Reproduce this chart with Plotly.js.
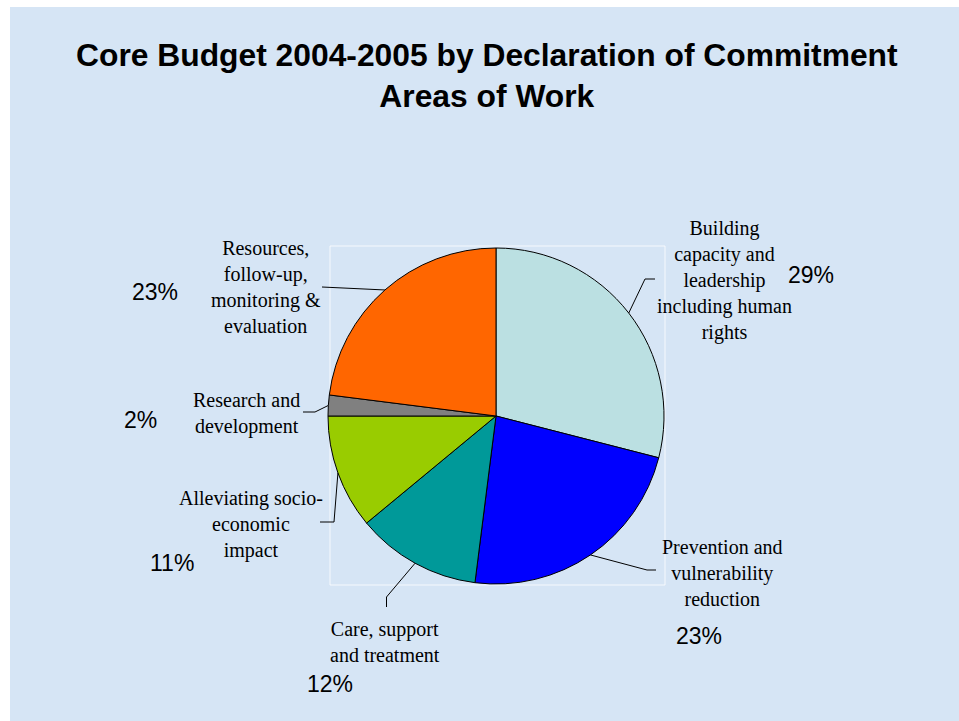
<!DOCTYPE html>
<html>
<head>
<meta charset="utf-8">
<script src="https://cdn.plot.ly/plotly-3.0.1.min.js"></script>
<style>
  html, body { margin: 0; padding: 0; background: #ffffff; }
  #chart { position: absolute; left: 10px; top: 7px; width: 949px; height: 714px; }
</style>
</head>
<body>
<div id="chart"></div>
<script>
// ---- data ----
const categories = [
  "Building capacity and leadership including human rights",
  "Prevention and vulnerability reduction",
  "Care, support and treatment",
  "Alleviating socio-economic impact",
  "Research and development",
  "Resources, follow-up, monitoring & evaluation"
];
const labelLines = [
  "Building<br>capacity and<br>leadership<br>including human<br>rights",
  "Prevention and<br>vulnerability<br>reduction",
  "Care, support<br>and treatment",
  "Alleviating socio-<br>economic<br>impact",
  "Research and<br>development",
  "Resources,<br>follow-up,<br>monitoring &<br>evaluation"
];
const values = [29, 23, 12, 11, 2, 23];
const pctLabels = ["29%", "23%", "12%", "11%", "2%", "23%"];
const titleText = "Core Budget 2004-2005 by Declaration of Commitment<br>Areas of Work";

// ---- style / layout ----
const colors = ["#BBE0E2", "#0000FF", "#009999", "#99CC00", "#808080", "#FF6600"];
const W = 949, H = 714;
const pie = { cx: 486, cy: 409, r: 168 };
// label centres, percent centres, leader elbow & end points (pixels in the chart div)
const labelPos = [[714.5, 273], [712, 565.5], [375, 635], [241, 517], [236, 406.5], [255.5, 280.5]];
const pctPos   = [[801, 268], [689, 629], [320, 677], [162, 556], [130, 413], [145, 284.7]];
const leaderElbow = [[635, 272], [637, 563], [376.5, 590], [324, 515], [305, 405], [312, 280]];
const leaderEnd   = [[645, 272], [646, 563], [376.5, 600], [310, 515], [293, 405], [312, 280]];

const px = x => x / W;
const py = y => 1 - y / H;

const total = values.reduce((a, b) => a + b, 0);
const shapes = [];
const annotations = [];

// plot-area frame
shapes.push({
  type: "rect", xref: "paper", yref: "paper",
  x0: px(pie.cx - pie.r + 2), x1: px(pie.cx + pie.r + 1),
  y0: py(pie.cy + pie.r + 1), y1: py(pie.cy - pie.r - 2),
  line: { color: "rgba(255,255,255,0.8)", width: 1 }, layer: "below"
});

let cum = 0;
values.forEach((v, i) => {
  const theta = 2 * Math.PI * (cum + v / 2) / total;
  cum += v;
  const sx = pie.cx + pie.r * Math.sin(theta);
  const sy = pie.cy - pie.r * Math.cos(theta);
  const e = leaderElbow[i], f = leaderEnd[i];
  shapes.push({ type: "line", xref: "paper", yref: "paper",
    x0: px(sx), y0: py(sy), x1: px(e[0]), y1: py(e[1]),
    line: { color: "#000000", width: 1 } });
  if (e[0] !== f[0] || e[1] !== f[1]) {
    shapes.push({ type: "line", xref: "paper", yref: "paper",
      x0: px(e[0]), y0: py(e[1]), x1: px(f[0]), y1: py(f[1]),
      line: { color: "#000000", width: 1 } });
  }
  annotations.push({
    xref: "paper", yref: "paper", x: px(labelPos[i][0]), y: py(labelPos[i][1]),
    xanchor: "center", yanchor: "middle", align: "center", showarrow: false,
    text: labelLines[i],
    font: { family: "Liberation Serif, Times New Roman, serif", size: 20, color: "#000000" }
  });
  annotations.push({
    xref: "paper", yref: "paper", x: px(pctPos[i][0]), y: py(pctPos[i][1]),
    xanchor: "center", yanchor: "middle", showarrow: false,
    text: pctLabels[i],
    font: { family: "Liberation Sans, Arial, sans-serif", size: 23, color: "#000000" }
  });
});

annotations.push({
  xref: "paper", yref: "paper", x: px(477), y: py(68),
  xanchor: "center", yanchor: "middle", align: "center", showarrow: false,
  text: "<b>" + titleText + "</b>",
  font: { family: "Liberation Sans, Arial, sans-serif", size: 31.8, color: "#000000" }
});

const trace = {
  type: "pie",
  labels: categories,
  values: values,
  sort: false,
  direction: "clockwise",
  rotation: 0,
  textinfo: "none",
  hoverinfo: "label+percent",
  marker: { colors: colors, line: { color: "#000000", width: 1 } },
  domain: {
    x: [px(pie.cx - pie.r), px(pie.cx + pie.r)],
    y: [py(pie.cy + pie.r), py(pie.cy - pie.r)]
  }
};

const layout = {
  width: W, height: H,
  margin: { l: 0, r: 0, t: 0, b: 0, pad: 0 },
  paper_bgcolor: "#D6E5F5",
  plot_bgcolor: "rgba(0,0,0,0)",
  showlegend: false,
  shapes: shapes,
  annotations: annotations
};

Plotly.newPlot("chart", [trace], layout, { displayModeBar: false, staticPlot: true });
</script>
</body>
</html>
